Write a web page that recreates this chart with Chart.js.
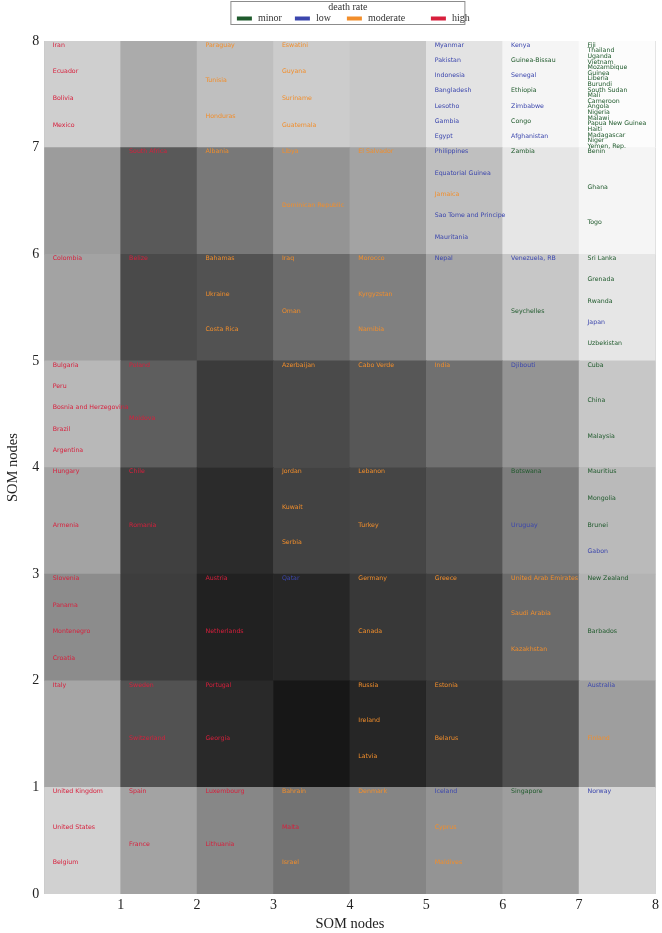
<!DOCTYPE html>
<html>
<head>
<meta charset="utf-8">
<script src="https://cdn.jsdelivr.net/npm/chart.js@4/dist/chart.umd.min.js"></script>
<style>
  html, body { margin: 0; padding: 0; background: #fff; }
</style>
</head>
<body>
<canvas id="som-chart" width="662" height="933"></canvas>
<script>
const gridSize = 8;
const axisTicks = [0, 1, 2, 3, 4, 5, 6, 7, 8];

// U-matrix shade of each node (0 = black, 1 = white), rows from top (y 7-8) down to y 0-1
const nodeShade = [
  [0.81, 0.67, 0.75, 0.80, 0.78, 0.89, 0.96, 0.99],
  [0.61, 0.35, 0.47, 0.58, 0.64, 0.75, 0.90, 0.96],
  [0.64, 0.29, 0.32, 0.42, 0.50, 0.65, 0.78, 0.90],
  [0.72, 0.37, 0.23, 0.29, 0.34, 0.44, 0.58, 0.78],
  [0.64, 0.25, 0.17, 0.26, 0.27, 0.33, 0.49, 0.73],
  [0.55, 0.24, 0.13, 0.15, 0.22, 0.25, 0.42, 0.70],
  [0.65, 0.32, 0.16, 0.09, 0.15, 0.22, 0.31, 0.62],
  [0.82, 0.64, 0.53, 0.45, 0.52, 0.58, 0.62, 0.84]
];

// countries mapped to each node, same row order
const nodeCountries = [
  [["Iran", "Ecuador", "Bolivia", "Mexico"], [], ["Paraguay", "Tunisia", "Honduras"],
   ["Eswatini", "Guyana", "Suriname", "Guatemala"], [],
   ["Myanmar", "Pakistan", "Indonesia", "Bangladesh", "Lesotho", "Gambia", "Egypt"],
   ["Kenya", "Guinea-Bissau", "Senegal", "Ethiopia", "Zimbabwe", "Congo", "Afghanistan"],
   ["Fiji", "Thailand", "Uganda", "Vietnam", "Mozambique", "Guinea", "Liberia", "Burundi", "South Sudan", "Mali",
    "Cameroon", "Angola", "Nigeria", "Malawi", "Papua New Guinea", "Haiti", "Madagascar", "Niger", "Yemen, Rep."]],
  [[], ["South Africa"], ["Albania"], ["Libya", "Dominican Republic"], ["El Salvador"],
   ["Philippines", "Equatorial Guinea", "Jamaica", "Sao Tome and Principe", "Mauritania"],
   ["Zambia"], ["Benin", "Ghana", "Togo"]],
  [["Colombia"], ["Belize"], ["Bahamas", "Ukraine", "Costa Rica"], ["Iraq", "Oman"],
   ["Morocco", "Kyrgyzstan", "Namibia"], ["Nepal"], ["Venezuela, RB", "Seychelles"],
   ["Sri Lanka", "Grenada", "Rwanda", "Japan", "Uzbekistan"]],
  [["Bulgaria", "Peru", "Bosnia and Herzegovina", "Brazil", "Argentina"], ["Poland", "Moldova"], [],
   ["Azerbaijan"], ["Cabo Verde"], ["India"], ["Djibouti"], ["Cuba", "China", "Malaysia"]],
  [["Hungary", "Armenia"], ["Chile", "Romania"], [], ["Jordan", "Kuwait", "Serbia"], ["Lebanon", "Turkey"], [],
   ["Botswana", "Uruguay"], ["Mauritius", "Mongolia", "Brunei", "Gabon"]],
  [["Slovenia", "Panama", "Montenegro", "Croatia"], [], ["Austria", "Netherlands"], ["Qatar"],
   ["Germany", "Canada"], ["Greece"], ["United Arab Emirates", "Saudi Arabia", "Kazakhstan"],
   ["New Zealand", "Barbados"]],
  [["Italy"], ["Sweden", "Switzerland"], ["Portugal", "Georgia"], [], ["Russia", "Ireland", "Latvia"],
   ["Estonia", "Belarus"], [], ["Australia", "Finland"]],
  [["United Kingdom", "United States", "Belgium"], ["Spain", "France"], ["Luxembourg", "Lithuania"],
   ["Bahrain", "Malta", "Israel"], ["Denmark"], ["Iceland", "Cyprus", "Maldives"], ["Singapore"], ["Norway"]]
];

// death rate class of each country (the rest are "minor")
const highRate = ["Iran", "Ecuador", "Bolivia", "Mexico", "South Africa", "Colombia", "Belize", "Bulgaria", "Peru",
  "Bosnia and Herzegovina", "Brazil", "Argentina", "Poland", "Moldova", "Hungary", "Armenia", "Chile", "Romania",
  "Slovenia", "Panama", "Montenegro", "Croatia", "Austria", "Netherlands", "Italy", "Sweden", "Switzerland",
  "Portugal", "Georgia", "United Kingdom", "United States", "Belgium", "Spain", "France", "Luxembourg",
  "Lithuania", "Malta"];
const moderateRate = ["Paraguay", "Tunisia", "Honduras", "Eswatini", "Guyana", "Suriname", "Guatemala", "Albania",
  "Libya", "Dominican Republic", "El Salvador", "Jamaica", "Bahamas", "Ukraine", "Costa Rica", "Iraq", "Oman",
  "Morocco", "Kyrgyzstan", "Namibia", "Azerbaijan", "Cabo Verde", "India", "Jordan", "Kuwait", "Serbia",
  "Lebanon", "Turkey", "Germany", "Canada", "Greece", "United Arab Emirates", "Saudi Arabia", "Kazakhstan",
  "Russia", "Ireland", "Latvia", "Estonia", "Belarus", "Finland", "Bahrain", "Israel", "Denmark", "Cyprus",
  "Maldives"];
const lowRate = ["Myanmar", "Pakistan", "Indonesia", "Bangladesh", "Lesotho", "Gambia", "Egypt", "Kenya", "Senegal",
  "Zimbabwe", "Afghanistan", "Philippines", "Equatorial Guinea", "Sao Tome and Principe", "Mauritania", "Nepal",
  "Venezuela, RB", "Japan", "Djibouti", "Uruguay", "Gabon", "Qatar", "Australia", "Iceland", "Norway"];

const rateNames = ["minor", "low", "moderate", "high"];
const rateColors = ["#1f5a2c", "#3b46ad", "#f28e2b", "#d81f3c"];

function rateOf(name) {
  if (highRate.includes(name)) return 3;
  if (moderateRate.includes(name)) return 2;
  if (lowRate.includes(name)) return 1;
  return 0;
}

function grey(v) {
  const g = Math.round(v * 255);
  return `rgb(${g},${g},${g})`;
}

// one floating bar per node
const cells = [];
const cellColors = [];
nodeShade.forEach((row, ri) => {
  const r = gridSize - 1 - ri;
  row.forEach((v, c) => {
    cells.push({ x: c + 0.5, y: [r, r + 1] });
    cellColors.push(grey(v));
  });
});

// mid grey behind the cells so the seams between them stay faint
const areaBackground = {
  id: "areaBackground",
  beforeDatasetsDraw(chart) {
    const { ctx, chartArea: a } = chart;
    ctx.save();
    ctx.fillStyle = "#a8a8a8";
    ctx.fillRect(a.left, a.top, a.right - a.left, a.bottom - a.top);
    ctx.restore();
  }
};

const nodeLabels = {
  id: "nodeLabels",
  afterDatasetsDraw(chart) {
    const { ctx, scales: { x, y } } = chart;
    ctx.save();
    ctx.font = '6.25px "DejaVu Sans"';
    ctx.textBaseline = "top";
    ctx.textAlign = "left";
    nodeCountries.forEach((row, ri) => {
      const r = gridSize - 1 - ri;
      row.forEach((names, c) => {
        names.forEach((name, k) => {
          ctx.fillStyle = rateColors[rateOf(name)];
          ctx.fillText(name, x.getPixelForValue(c + 0.11), y.getPixelForValue(r + 1 - k / names.length) + 1);
        });
      });
    });
    ctx.restore();
  }
};

const rateLegend = {
  id: "rateLegend",
  afterDraw(chart) {
    const { ctx, chartArea } = chart;
    const w = 234, h = 23;
    const left = (chartArea.left + chartArea.right) / 2 - w / 2 - 2;
    const top = 1.5;
    ctx.save();
    ctx.fillStyle = "#fff";
    ctx.strokeStyle = "#8c8c8c";
    ctx.lineWidth = 1;
    ctx.fillRect(left, top, w, h);
    ctx.strokeRect(left, top, w, h);
    ctx.fillStyle = "#333";
    ctx.font = '10px "Liberation Serif"';
    ctx.textAlign = "center";
    ctx.textBaseline = "middle";
    ctx.fillText("death rate", left + w / 2, top + 6);
    const boxX = [6, 64, 116, 200];
    ctx.textAlign = "left";
    rateNames.forEach((name, i) => {
      ctx.fillStyle = rateColors[i];
      ctx.fillRect(left + boxX[i], top + 15, 15, 4);
      ctx.fillStyle = "#333";
      ctx.fillText(name, left + boxX[i] + 21, top + 16.5);
    });
    ctx.restore();
  }
};

const tickFont = { family: "Liberation Serif", size: 14 };
const titleFont = { family: "Liberation Serif", size: 14.5 };

new Chart(document.getElementById("som-chart"), {
  type: "bar",
  data: {
    datasets: [{
      data: cells,
      backgroundColor: cellColors,
      borderWidth: 0,
      barPercentage: 1,
      categoryPercentage: 1
    }]
  },
  options: {
    responsive: false,
    animation: false,
    devicePixelRatio: 1,
    layout: { padding: { top: 41, right: 3, left: 0, bottom: 0 } },
    plugins: { legend: { display: false }, tooltip: { enabled: false } },
    scales: {
      x: {
        type: "linear",
        offset: false,
        min: 0,
        max: gridSize,
        afterBuildTicks: (s) => { s.ticks = axisTicks.map(v => ({ value: v })); },
        afterFit: (s) => { s.height = 39; },
        ticks: { font: tickFont, color: "#222", padding: 3, callback: (v) => (v === 0 ? "" : v) },
        grid: { display: false, drawTicks: false, offset: false },
        border: { display: false },
        title: { display: true, text: "SOM nodes", font: titleFont, color: "#222", padding: { top: 0, bottom: 0 } }
      },
      y: {
        type: "linear",
        min: 0,
        max: gridSize,
        afterBuildTicks: (s) => { s.ticks = axisTicks.map(v => ({ value: v })); },
        afterFit: (s) => { s.width = 44.3; },
        ticks: { font: tickFont, color: "#222", padding: 5 },
        grid: { display: false, drawTicks: false },
        border: { display: false },
        title: { display: true, text: "SOM nodes", font: titleFont, color: "#222", padding: { top: 4, bottom: 4 } }
      }
    }
  },
  plugins: [areaBackground, nodeLabels, rateLegend]
});
</script>
</body>
</html>
